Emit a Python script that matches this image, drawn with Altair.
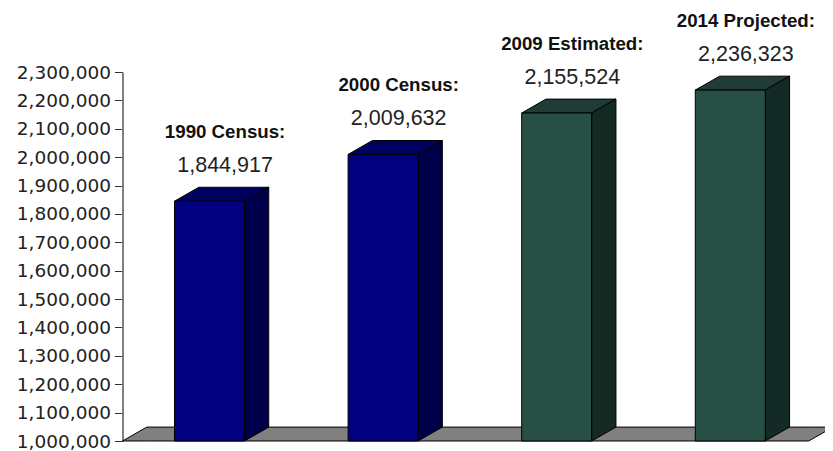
import altair as alt
import pandas as pd

labels = ["1990 Census:", "2000 Census:", "2009 Estimated:", "2014 Projected:"]
values = [1844917, 2009632, 2155524, 2236323]
front_colors = ["#000080", "#000080", "#284F46", "#284F46"]
top_colors = ["#000060", "#000060", "#1F3D36", "#1F3D36"]
side_colors = ["#00004A", "#00004A", "#142A24", "#142A24"]
tick_values = [1000000 + 100000 * i for i in range(14)]

BASE = 1000000
TOP = 2300000
RISE = 49000
W, H = 702.5, 369
X_MAX = W / 173.6
FLOOR_END = 4.0927
GAP = 0.2995
BAR = 0.403
DEPTH = 0.14

front, faces, floor = [], [], []
for i, (lab, v) in enumerate(zip(labels, values)):
    x0 = i + GAP
    x1 = x0 + BAR
    x2 = x1 + DEPTH
    front.append(dict(x=x0, x2=x1, y=v, y2=BASE, fill=front_colors[i],
                      label=lab, value=f"{v:,}", cx=x0 + (BAR + DEPTH) / 2 + 0.02))
    for x, y, y2 in [(x0, v, v), (x0 + DEPTH, v + RISE, v), (x1, v + RISE, v), (x2, v + RISE, v + RISE)]:
        faces.append(dict(key=f"top{i}", fill=top_colors[i], x=x, y=y, y2=y2))
    for x, y, y2 in [(x1, v, BASE), (x2, v + RISE, BASE + RISE)]:
        faces.append(dict(key=f"side{i}", fill=side_colors[i], x=x, y=y, y2=y2))

for x, y, y2 in [(0, BASE, BASE), (DEPTH, BASE + RISE, BASE), (FLOOR_END - DEPTH, BASE + RISE, BASE), (FLOOR_END, BASE + RISE, BASE + RISE)]:
    floor.append(dict(x=x, y=y, y2=y2))

xs = alt.Scale(domain=[0, X_MAX], nice=False, zero=False)
ys = alt.Scale(domain=[BASE, TOP], nice=False, zero=False)
X = alt.X("x:Q", scale=xs, axis=None)
Y = alt.Y("y:Q", scale=ys, axis=alt.Axis(
    values=tick_values, format=",d", title=None, grid=False,
    domainColor="#808080", domainWidth=2, tickColor="#333333", tickSize=8, tickWidth=1,
    labelFont="DejaVu Sans", labelFontSize=18.5, labelColor="#222222", labelPadding=4,
    labelOverlap=False, labelFlush=False))

floor_l = alt.Chart(pd.DataFrame(floor)).mark_area(
    fill="#808080", stroke="#000000", strokeWidth=1, clip=False
).encode(x=X, y=Y, y2="y2:Q")

faces_l = alt.Chart(pd.DataFrame(faces)).mark_area(
    stroke="#000000", strokeWidth=1, clip=False, opacity=1
).encode(x=X, y=Y, y2="y2:Q", detail="key:N",
         fill=alt.Fill("fill:N", scale=None))

df = pd.DataFrame(front)
front_l = alt.Chart(df).mark_rect(stroke="#000000", strokeWidth=1).encode(
    x=X, x2="x2:Q", y=Y, y2="y2:Q",
    fill=alt.Fill("fill:N", scale=None))

cx = alt.X("cx:Q", scale=xs, axis=None)
head_l = alt.Chart(df).mark_text(
    font="Liberation Sans", fontWeight="bold", fontSize=18.7, color="#111111", dy=-69.5, clip=False
).encode(x=cx, y=Y, text="label:N")
val_l = alt.Chart(df).mark_text(
    font="Liberation Sans", fontSize=21.5, color="#222222", dy=-35.5, clip=False
).encode(x=cx, y=Y, text="value:N")

chart = alt.layer(floor_l, faces_l, front_l, head_l, val_l).properties(
    width=W, height=H,
    autosize=alt.AutoSizeParams(type="none"),
    padding={"left": 114.5, "top": 64, "right": 0, "bottom": 12},
    background="#ffffff",
).configure_view(stroke=None)

chart.save("out.html", embed_options={"renderer": "svg", "actions": False})
